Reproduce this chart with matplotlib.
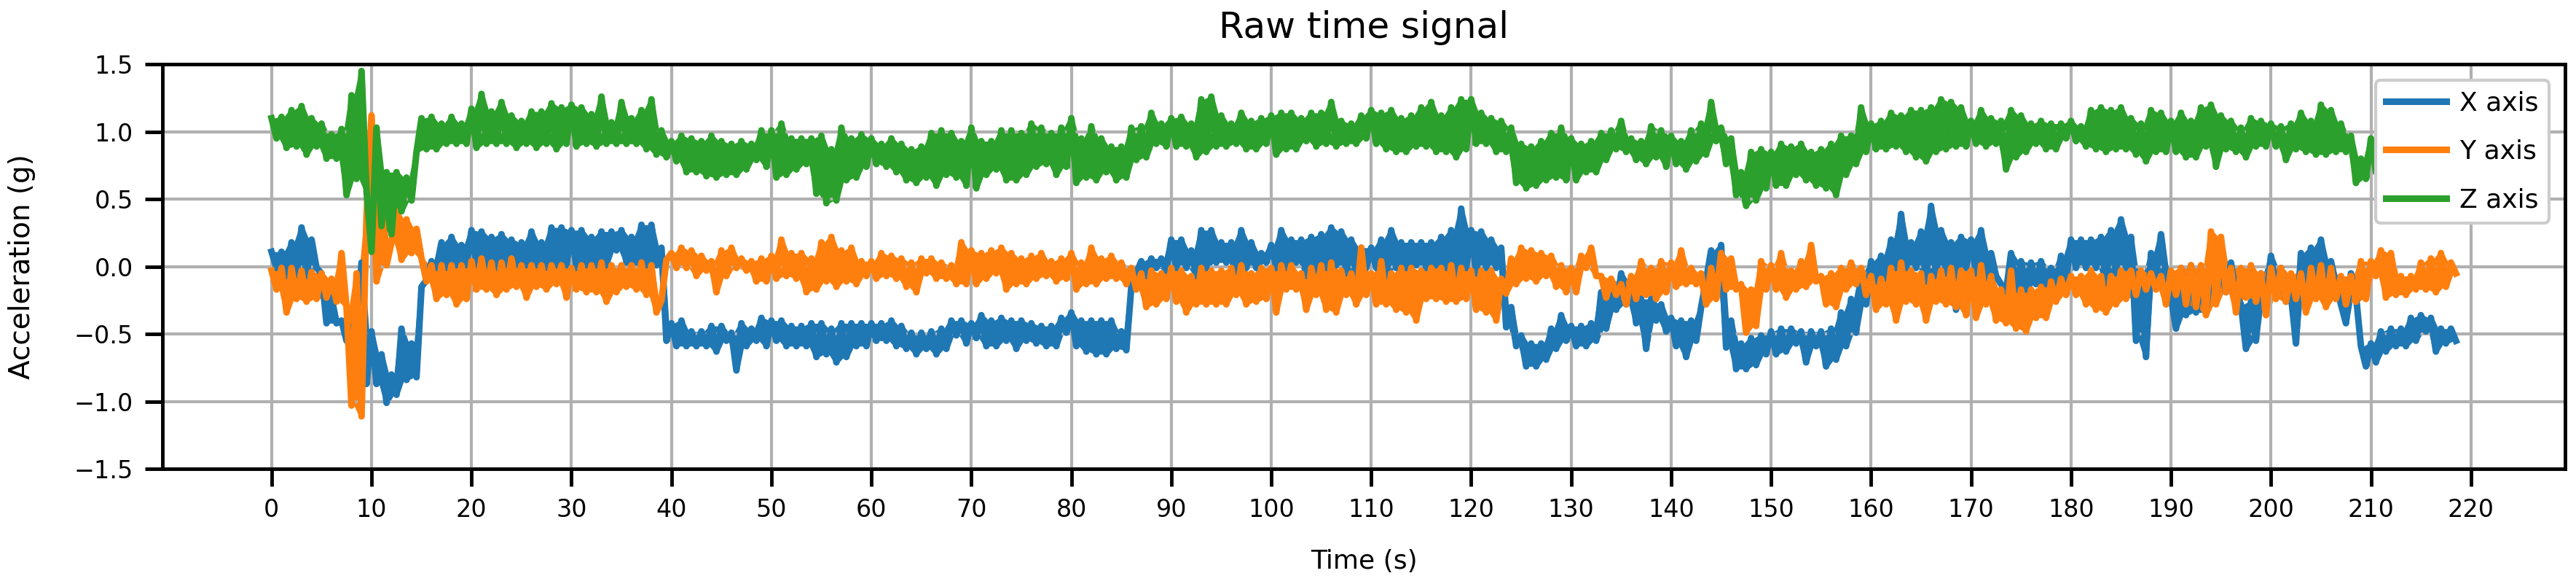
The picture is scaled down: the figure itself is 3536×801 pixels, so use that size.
import numpy as np
import matplotlib
matplotlib.use("Agg")
import matplotlib.pyplot as plt

# band: value on each whole second, then on the half second
x_on = [0.11, 0.11, 0.18, 0.29, 0.20, -0.05, -0.23, -0.40, -0.45, 0.03,
        -0.48, -0.65, -0.80, -0.46, -0.57, -0.15, 0.04, 0.18, 0.22, 0.16,
        0.27, 0.26, 0.22, 0.24, 0.20, 0.18, 0.26, 0.18, 0.29, 0.29,
        0.27, 0.27, 0.22, 0.26, 0.26, 0.27, 0.22, 0.31, 0.31, 0.14,
        -0.42, -0.40, -0.48, -0.48, -0.44, -0.44, -0.49, -0.42, -0.46, -0.38,
        -0.40, -0.40, -0.44, -0.44, -0.42, -0.42, -0.46, -0.42, -0.42, -0.42,
        -0.42, -0.42, -0.40, -0.44, -0.49, -0.49, -0.48, -0.46, -0.40, -0.40,
        -0.42, -0.36, -0.40, -0.38, -0.40, -0.40, -0.42, -0.44, -0.44, -0.38,
        -0.34, -0.40, -0.40, -0.40, -0.40, -0.48, -0.15, 0.04, 0.06, 0.06,
        0.20, 0.20, 0.12, 0.27, 0.27, 0.18, 0.18, 0.27, 0.18, 0.10,
        0.16, 0.27, 0.20, 0.20, 0.22, 0.24, 0.29, 0.26, 0.20, 0.14,
        0.14, 0.20, 0.27, 0.18, 0.18, 0.18, 0.18, 0.22, 0.27, 0.43,
        0.27, 0.26, 0.20, 0.14, -0.30, -0.51, -0.57, -0.57, -0.46, -0.36,
        -0.44, -0.44, -0.42, -0.19, -0.21, -0.05, -0.11, -0.24, -0.24, -0.28,
        -0.38, -0.40, -0.40, -0.30, 0.12, 0.16, -0.40, -0.57, -0.53, -0.51,
        -0.48, -0.46, -0.46, -0.48, -0.48, -0.48, -0.46, -0.34, -0.24, -0.05,
        0.04, 0.08, 0.20, 0.39, 0.18, 0.26, 0.45, 0.27, 0.18, 0.22,
        0.20, 0.27, 0.10, -0.13, 0.10, 0.04, 0.03, 0.04, -0.01, 0.08,
        0.20, 0.20, 0.20, 0.22, 0.27, 0.35, 0.22, -0.05, 0.10, 0.24,
        -0.23, -0.01, 0.01, -0.11, -0.01, 0.03, 0.03, -0.28, -0.26, -0.05,
        0.08, -0.01, -0.21, 0.10, 0.14, 0.20, 0.04, -0.28, -0.05, -0.59,
        -0.57, -0.48, -0.46, -0.46, -0.38, -0.36, -0.38, -0.46, -0.46]
x_half = [-0.01, -0.07, -0.07, -0.07, -0.01, -0.42, -0.42, -0.55, -0.50, -0.87,
          -0.87, -1.01, -0.95, -0.84, -0.82, -0.10, -0.01, -0.01, 0.01, 0.01,
          0.01, -0.01, -0.01, 0.01, 0.01, 0.01, 0.01, -0.01, 0.01, 0.01,
          -0.01, 0.01, 0.01, 0.01, 0.12, 0.03, 0.03, 0.01, 0.01, -0.55,
          -0.59, -0.59, -0.59, -0.59, -0.63, -0.55, -0.77, -0.59, -0.55, -0.59,
          -0.55, -0.59, -0.59, -0.59, -0.67, -0.65, -0.71, -0.67, -0.59, -0.59,
          -0.55, -0.55, -0.59, -0.61, -0.65, -0.61, -0.65, -0.61, -0.51, -0.57,
          -0.53, -0.59, -0.59, -0.55, -0.61, -0.55, -0.57, -0.59, -0.59, -0.49,
          -0.59, -0.63, -0.65, -0.65, -0.61, -0.62, -0.05, -0.07, -0.01, -0.03,
          -0.01, -0.01, -0.07, -0.01, 0.03, 0.03, -0.05, -0.01, -0.01, 0.03,
          -0.01, -0.01, 0.03, -0.07, -0.03, -0.01, 0.01, -0.05, -0.07, -0.01,
          -0.01, -0.09, -0.01, -0.01, 0.01, -0.01, 0.01, -0.01, -0.07, -0.01,
          -0.05, -0.01, -0.01, -0.45, -0.59, -0.74, -0.74, -0.69, -0.61, -0.55,
          -0.59, -0.59, -0.55, -0.46, -0.32, -0.28, -0.42, -0.61, -0.40, -0.48,
          -0.59, -0.67, -0.55, -0.10, -0.11, -0.60, -0.76, -0.76, -0.73, -0.65,
          -0.65, -0.63, -0.57, -0.71, -0.59, -0.74, -0.69, -0.59, -0.49, -0.28,
          -0.11, -0.09, -0.01, -0.01, -0.01, -0.11, -0.07, -0.05, -0.32, -0.01,
          -0.05, -0.09, -0.07, -0.19, -0.17, -0.17, -0.13, -0.13, -0.17, -0.11,
          -0.01, -0.01, -0.01, -0.13, -0.05, -0.01, -0.55, -0.67, -0.07, -0.05,
          -0.46, -0.36, -0.34, -0.34, -0.23, -0.19, -0.21, -0.61, -0.55, -0.26,
          -0.17, -0.26, -0.57, -0.13, -0.09, -0.07, -0.13, -0.42, -0.21, -0.74,
          -0.71, -0.63, -0.59, -0.59, -0.55, -0.48, -0.63, -0.57, -0.55]

y_on = [-0.03, -0.01, -0.01, -0.03, -0.04, -0.05, -0.09, 0.10, -1.03, -1.11,
        1.12, 0.43, 0.18, 0.05, 0.10, 0.06, 0.01, 0.01, 0.01, 0.01,
        0.04, 0.06, 0.03, 0.03, 0.06, 0.01, 0.01, 0.01, 0.01, 0.01,
        -0.01, 0.01, 0.01, 0.03, 0.01, 0.01, 0.01, 0.03, 0.01, -0.25,
        0.10, 0.14, 0.12, 0.08, 0.04, 0.12, 0.14, 0.06, 0.04, 0.06,
        0.08, 0.20, 0.10, 0.10, 0.06, 0.18, 0.22, 0.12, 0.14, 0.04,
        0.04, 0.10, 0.08, 0.06, 0.03, 0.06, 0.06, 0.03, 0.01, 0.18,
        0.12, 0.10, 0.12, 0.14, 0.10, 0.06, 0.08, 0.10, 0.04, 0.06,
        0.10, 0.03, 0.14, 0.06, 0.08, 0.03, -0.01, -0.05, -0.03, -0.05,
        -0.01, -0.03, -0.07, -0.01, -0.03, -0.03, -0.01, 0.01, -0.05, -0.01,
        -0.01, 0.01, 0.01, -0.05, -0.01, 0.01, 0.03, -0.03, -0.05, 0.14,
        -0.05, 0.04, -0.05, -0.01, -0.01, -0.03, -0.01, -0.01, 0.01, -0.01,
        -0.03, -0.03, -0.03, -0.09, 0.06, 0.14, 0.12, 0.10, 0.08, 0.01,
        -0.01, 0.08, 0.14, -0.07, -0.09, -0.13, -0.07, 0.04, -0.01, 0.04,
        0.03, 0.12, -0.01, -0.05, -0.01, 0.10, 0.06, -0.13, -0.17, 0.04,
        0.01, 0.10, -0.03, 0.04, 0.16, -0.07, -0.05, -0.01, 0.03, -0.01,
        -0.07, -0.09, -0.01, 0.03, -0.03, -0.05, -0.07, -0.03, -0.01, -0.03,
        -0.03, 0.01, -0.07, -0.17, -0.03, -0.17, -0.17, -0.15, -0.11, -0.09,
        -0.07, -0.07, -0.03, -0.07, -0.07, -0.03, -0.03, -0.03, -0.05, -0.07,
        -0.03, -0.01, 0.01, 0.01, 0.26, 0.22, -0.01, -0.01, 0.01, -0.05,
        -0.01, -0.01, -0.05, -0.05, -0.01, 0.01, -0.01, -0.07, -0.07, 0.04,
        0.04, 0.12, 0.10, -0.07, -0.07, 0.03, 0.06, 0.10, 0.03]
y_half = [-0.17, -0.34, -0.24, -0.26, -0.24, -0.23, -0.26, -0.30, -0.05, 0.37,
          -0.11, 0.01, 0.41, 0.35, 0.28, -0.11, -0.24, -0.21, -0.28, -0.24,
          -0.17, -0.17, -0.21, -0.17, -0.15, -0.23, -0.15, -0.17, -0.13, -0.23,
          -0.17, -0.19, -0.19, -0.26, -0.19, -0.15, -0.17, -0.21, -0.34, 0.05,
          -0.01, -0.01, -0.07, -0.03, -0.19, -0.07, -0.01, -0.03, -0.11, -0.11,
          -0.09, -0.07, -0.09, -0.19, -0.17, -0.11, -0.15, -0.11, -0.13, -0.07,
          -0.09, -0.07, -0.09, -0.15, -0.19, -0.05, -0.09, -0.09, -0.13, -0.13,
          -0.13, -0.09, -0.05, -0.17, -0.13, -0.13, -0.09, -0.07, -0.11, -0.09,
          -0.17, -0.13, -0.13, -0.09, -0.09, -0.13, -0.17, -0.30, -0.28, -0.24,
          -0.26, -0.34, -0.28, -0.28, -0.28, -0.28, -0.21, -0.28, -0.26, -0.24,
          -0.34, -0.17, -0.17, -0.32, -0.21, -0.32, -0.34, -0.21, -0.28, -0.21,
          -0.28, -0.28, -0.32, -0.34, -0.40, -0.24, -0.24, -0.26, -0.26, -0.24,
          -0.32, -0.34, -0.40, -0.20, -0.13, -0.09, -0.11, -0.07, -0.15, -0.19,
          -0.19, -0.01, -0.07, -0.23, -0.21, -0.28, -0.24, -0.21, -0.24, -0.19,
          -0.15, -0.13, -0.13, -0.28, -0.24, -0.17, -0.17, -0.49, -0.44, -0.17,
          -0.17, -0.23, -0.17, -0.15, -0.11, -0.28, -0.30, -0.17, -0.13, -0.21,
          -0.32, -0.28, -0.40, -0.26, -0.28, -0.40, -0.26, -0.28, -0.30, -0.36,
          -0.38, -0.28, -0.40, -0.42, -0.46, -0.48, -0.38, -0.38, -0.26, -0.21,
          -0.21, -0.28, -0.32, -0.34, -0.28, -0.24, -0.21, -0.17, -0.17, -0.28,
          -0.21, -0.28, -0.30, -0.36, -0.28, -0.19, -0.34, -0.23, -0.26, -0.36,
          -0.24, -0.26, -0.24, -0.34, -0.24, -0.30, -0.24, -0.28, -0.26, -0.24,
          -0.07, -0.23, -0.21, -0.21, -0.17, -0.17, -0.19, -0.15, -0.05]

z_on = [1.10, 1.11, 1.16, 1.19, 1.10, 1.06, 0.98, 1.02, 1.27, 1.45,
        0.11, 0.30, 0.24, 0.41, 0.49, 1.10, 1.11, 1.06, 1.11, 1.06,
        1.17, 1.28, 1.15, 1.22, 1.12, 1.08, 1.15, 1.15, 1.21, 1.18,
        1.20, 1.18, 1.13, 1.26, 1.07, 1.22, 1.10, 1.16, 1.24, 1.01,
        0.93, 0.97, 0.95, 0.93, 0.97, 0.93, 0.91, 0.93, 0.91, 1.01,
        1.01, 1.06, 0.95, 0.95, 0.95, 0.97, 0.87, 1.03, 0.95, 0.98,
        0.95, 0.91, 0.95, 0.91, 0.87, 0.89, 0.99, 1.01, 0.99, 0.93,
        1.03, 0.93, 0.93, 1.01, 1.01, 0.99, 1.06, 1.03, 0.99, 1.03,
        1.10, 0.95, 1.04, 0.95, 0.89, 0.89, 1.03, 1.04, 1.14, 1.06,
        1.10, 1.11, 1.06, 1.24, 1.26, 1.12, 1.06, 1.14, 1.08, 1.10,
        1.12, 1.14, 1.14, 1.10, 1.14, 1.14, 1.22, 1.08, 1.06, 1.12,
        1.16, 1.14, 1.16, 1.10, 1.12, 1.18, 1.22, 1.12, 1.18, 1.24,
        1.24, 1.14, 1.10, 1.08, 1.03, 0.91, 0.89, 0.93, 0.99, 1.03,
        0.95, 0.91, 0.93, 0.99, 1.01, 1.08, 0.95, 0.93, 1.04, 1.01,
        0.97, 0.93, 1.01, 1.06, 1.22, 1.03, 0.95, 0.70, 0.85, 0.87,
        0.85, 0.91, 0.89, 0.91, 0.85, 0.87, 0.91, 0.97, 0.97, 1.18,
        1.06, 1.08, 1.14, 1.12, 1.16, 1.16, 1.18, 1.24, 1.22, 1.18,
        1.08, 1.16, 1.10, 1.08, 1.16, 1.12, 1.06, 1.08, 1.06, 1.06,
        1.08, 1.04, 1.16, 1.18, 1.16, 1.18, 1.10, 1.06, 1.16, 1.14,
        1.08, 1.14, 1.08, 1.18, 1.20, 1.12, 1.08, 1.03, 1.10, 1.08,
        1.06, 1.04, 1.06, 1.14, 1.08, 1.20, 1.16, 1.06, 0.97, 0.80,
        0.95, 0.97, 0.95, 0.97, 0.95, 0.95, 0.97, 0.95, 0.95]
z_half = [0.95, 0.88, 0.89, 0.83, 0.89, 0.80, 0.80, 0.53, 0.65, 0.56,
          1.03, 0.70, 0.70, 0.66, 0.85, 0.87, 0.87, 0.91, 0.91, 0.91,
          0.88, 0.91, 0.91, 0.91, 0.88, 0.91, 0.88, 0.91, 0.87, 0.91,
          0.89, 0.91, 0.89, 0.91, 0.91, 0.91, 0.91, 0.87, 0.83, 0.81,
          0.78, 0.70, 0.70, 0.67, 0.66, 0.68, 0.68, 0.72, 0.79, 0.74,
          0.66, 0.68, 0.72, 0.76, 0.54, 0.47, 0.49, 0.64, 0.66, 0.74,
          0.76, 0.74, 0.70, 0.64, 0.62, 0.66, 0.60, 0.68, 0.66, 0.60,
          0.58, 0.68, 0.72, 0.64, 0.64, 0.68, 0.74, 0.76, 0.68, 0.74,
          0.62, 0.66, 0.64, 0.70, 0.64, 0.66, 0.79, 0.81, 0.91, 0.89,
          0.89, 0.89, 0.81, 0.85, 0.89, 0.89, 0.91, 0.87, 0.87, 0.91,
          0.83, 0.87, 0.87, 0.93, 0.89, 0.91, 0.89, 0.91, 0.91, 0.95,
          0.91, 0.87, 0.85, 0.85, 0.89, 0.89, 0.85, 0.85, 0.81, 0.87,
          0.91, 0.91, 0.85, 0.85, 0.62, 0.58, 0.60, 0.64, 0.66, 0.64,
          0.64, 0.70, 0.70, 0.79, 0.87, 0.85, 0.79, 0.76, 0.81, 0.74,
          0.76, 0.72, 0.78, 0.83, 0.93, 0.76, 0.53, 0.45, 0.49, 0.58,
          0.60, 0.60, 0.68, 0.64, 0.60, 0.58, 0.53, 0.68, 0.76, 0.85,
          0.87, 0.87, 0.89, 0.85, 0.81, 0.78, 0.85, 0.87, 0.89, 0.89,
          0.91, 0.89, 0.91, 0.72, 0.81, 0.85, 0.91, 0.87, 0.87, 0.95,
          0.93, 0.89, 0.87, 0.85, 0.87, 0.87, 0.83, 0.78, 0.85, 0.85,
          0.85, 0.81, 0.81, 0.89, 0.74, 0.87, 0.85, 0.81, 0.89, 0.89,
          0.89, 0.79, 0.87, 0.85, 0.83, 0.83, 0.85, 0.85, 0.62, 0.65,
          0.70, 0.72, 0.75, 0.78, 0.80, 0.80, 0.82, 0.80, 0.80]

labels = ["X axis", "Y axis", "Z axis"]
colors = ["#1f77b4", "#ff7f0e", "#2ca02c"]


def merge(on, half):
    # whole-second reading followed by the half-second one
    return np.column_stack([on, half]).ravel()


series = [merge(x_on, x_half), merge(y_on, y_half), merge(z_on, z_half)]
t = np.arange(len(series[0])) * 0.5

fig = plt.figure(figsize=(35.37, 8.01), dpi=100)
ax = fig.add_axes([0.063, 0.197, 0.9325, 0.693])

for sig, lab, col in zip(series, labels, colors):
    # the noisy trace reads as a solid ribbon: shade the span of each segment
    mid = (t[:-1] + t[1:]) / 2
    top = np.maximum(sig[:-1], sig[1:])
    bot = np.minimum(sig[:-1], sig[1:])
    ax.fill_between(mid, bot, top, color=col, lw=0)
    ax.plot(t, sig, color=col, lw=6.5, label=lab)

ax.set_ylim(-1.5, 1.5)
ax.set_yticks(np.arange(-1.5, 1.51, 0.5))
ax.set_xticks(np.arange(0, 221, 10))
ax.grid(True, color="#b0b0b0", lw=3)
ax.tick_params(labelsize=24, length=17, width=3.5, pad=12)
for sp in ax.spines.values():
    sp.set_linewidth(3.5)

ax.set_title("Raw time signal", fontsize=36, pad=26)
ax.set_xlabel("Time (s)", fontsize=26, labelpad=26)
ax.set_ylabel("Acceleration (g)", fontsize=28, labelpad=38)

leg = ax.legend(loc="upper right", fontsize=26, framealpha=1,
                borderaxespad=0.6, handlelength=2.3, handletextpad=0.5,
                labelspacing=0.9)
leg.get_frame().set_linewidth(3)
for line in leg.get_lines():
    line.set_linewidth(6.5)

fig.savefig("out.png", dpi=100)
